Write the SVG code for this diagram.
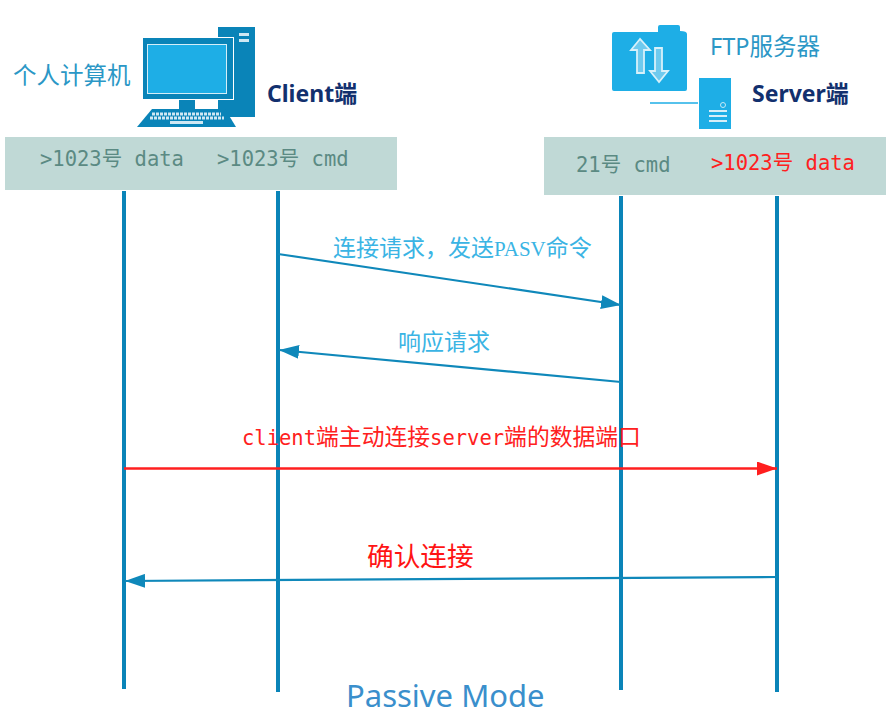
<svg xmlns="http://www.w3.org/2000/svg" width="886" height="709" viewBox="0 0 886 709">
<style>
.band{fill:#c0d9d6}
.port{font-family:"DejaVu Sans Mono","Noto Sans CJK SC",monospace;font-size:20.5px;fill:#5b8a83}
.cjk{font-family:"Noto Sans CJK SC",sans-serif}
.life{stroke:#0a84b8;stroke-width:4;fill:none}
.blue{stroke:#0f88ba;stroke-width:2.2;fill:none;marker-end:url(#ab)}
.red{stroke:#ff1f1f;stroke-width:2.4;fill:none;marker-end:url(#ar)}
.title{font-family:"Noto Sans","Noto Sans CJK SC",sans-serif;font-weight:700;font-size:23px;fill:#12306e}
.lbl{font-family:"Noto Sans CJK SC",sans-serif;font-size:23px;fill:#3ab4e4}
.head{font-family:"Noto Sans","Noto Sans CJK SC",sans-serif;font-size:23.5px;fill:#2b97c6}
.arrowglyph{fill:#6fcaee;stroke:#d8f1fa;stroke-width:1.8}
</style>
<defs>
<marker id="ab" markerUnits="userSpaceOnUse" markerWidth="20" markerHeight="14" refX="20" refY="7" orient="auto"><path d="M0 0L20 7L0 14Z" fill="#0f88ba"/></marker>
<marker id="ar" markerUnits="userSpaceOnUse" markerWidth="20" markerHeight="14" refX="20" refY="7" orient="auto"><path d="M0 0L20 7L0 14Z" fill="#ff1f1f"/></marker>
</defs>
<rect width="886" height="709" fill="#fff"/>
<g id="client-band"><rect class="band" x="5" y="137" width="392" height="53"/>
<text class="port" x="40" y="166" xml:space="preserve">&gt;1023号 data</text>
<text class="port" x="217" y="166" xml:space="preserve">&gt;1023号 cmd</text></g>
<g id="server-band"><rect class="band" x="544" y="137" width="342" height="58"/>
<text class="port" x="576" y="172" xml:space="preserve">21号 cmd</text>
<text class="port" x="711" y="170" style="fill:#ff2020" xml:space="preserve">&gt;1023号 data</text></g>
<g id="pc">
<rect x="218" y="27" width="37" height="90" fill="#0a84b8"/>
<rect x="239" y="33" width="10" height="3" fill="#cfe8f3"/><rect x="239" y="39" width="10" height="3" fill="#cfe8f3"/>
<rect x="142.5" y="37.5" width="91" height="62" fill="#0a84b8" stroke="#fff"/>
<rect x="147.5" y="44.5" width="79" height="49" fill="#1eaee6" stroke="#d5eef8"/>
<rect x="179" y="100" width="16" height="9" fill="#0a84b8"/>
<path d="M152 109H225L236 127H137Z" fill="#0a84b8"/>
<path d="M152 114H221M150 118H224" stroke="#cfe8f3" stroke-width="3" stroke-dasharray="3 1"/>
<rect x="170" y="121" width="33" height="3" fill="#cfe8f3"/>
<text class="head" x="13" y="84">个人计算机</text>
<text class="title" x="267" y="102">Client端</text></g>
<g id="server">
<path d="M612 34Q612 32 614 32H658V27Q658 25 660 25H678Q680 25 680 27V31Q687 31 687 34V89Q687 91 685 91H614Q612 91 612 89Z" fill="#1eaee6"/>
<path class="arrowglyph" d="M640 39L631 50H637V73H644V50H650Z"/>
<path class="arrowglyph" d="M659 82L650 71H655V48H662V71H668Z"/>
<line x1="650" y1="103" x2="698" y2="103" stroke="#1eaee6" stroke-width="1.5"/>
<rect x="699" y="78" width="32" height="51" fill="#1eaee6"/>
<circle cx="723" cy="105" r="2.5" fill="none" stroke="#c5e9f7"/>
<path d="M709 111H727M709 116H727M709 121H727" stroke="#d5eef8" stroke-width="2"/>
<text class="head" x="710" y="55">FTP服务器</text>
<text class="title" x="752" y="102">Server端</text></g>
<g id="connectors">
<path class="life" d="M124 191V689M278 191V692M621 196V690M777 196V692"/>
<path class="blue" d="M278 254L621 305"/>
<path class="blue" d="M621 382L279 350"/>
<path class="red" d="M124 468.5H777"/>
<path class="blue" d="M777 577L125 581"/>
</g>
<g id="labels">
<text class="lbl" x="333" y="256">连接请求，发送<tspan style="font-family:'Liberation Serif',serif;font-size:21px">PASV</tspan>命令</text>
<text class="lbl" x="398" y="350">响应请求</text>
<text x="242" y="445" style="font-family:'DejaVu Sans Mono','Noto Sans CJK SC',monospace;font-size:20.5px;fill:#ff2020">client<tspan style="font-size:22.8px">端主动连接</tspan>server<tspan style="font-size:22.8px">端的数据端口</tspan></text>
<text x="367" y="566" class="cjk" style="font-size:26.7px;fill:#ff1414">确认连接</text>
<text x="346" y="707" style="font-family:'Noto Sans',sans-serif;font-size:31px;fill:#3a8fcc">Passive Mode</text>
</g>
</svg>
